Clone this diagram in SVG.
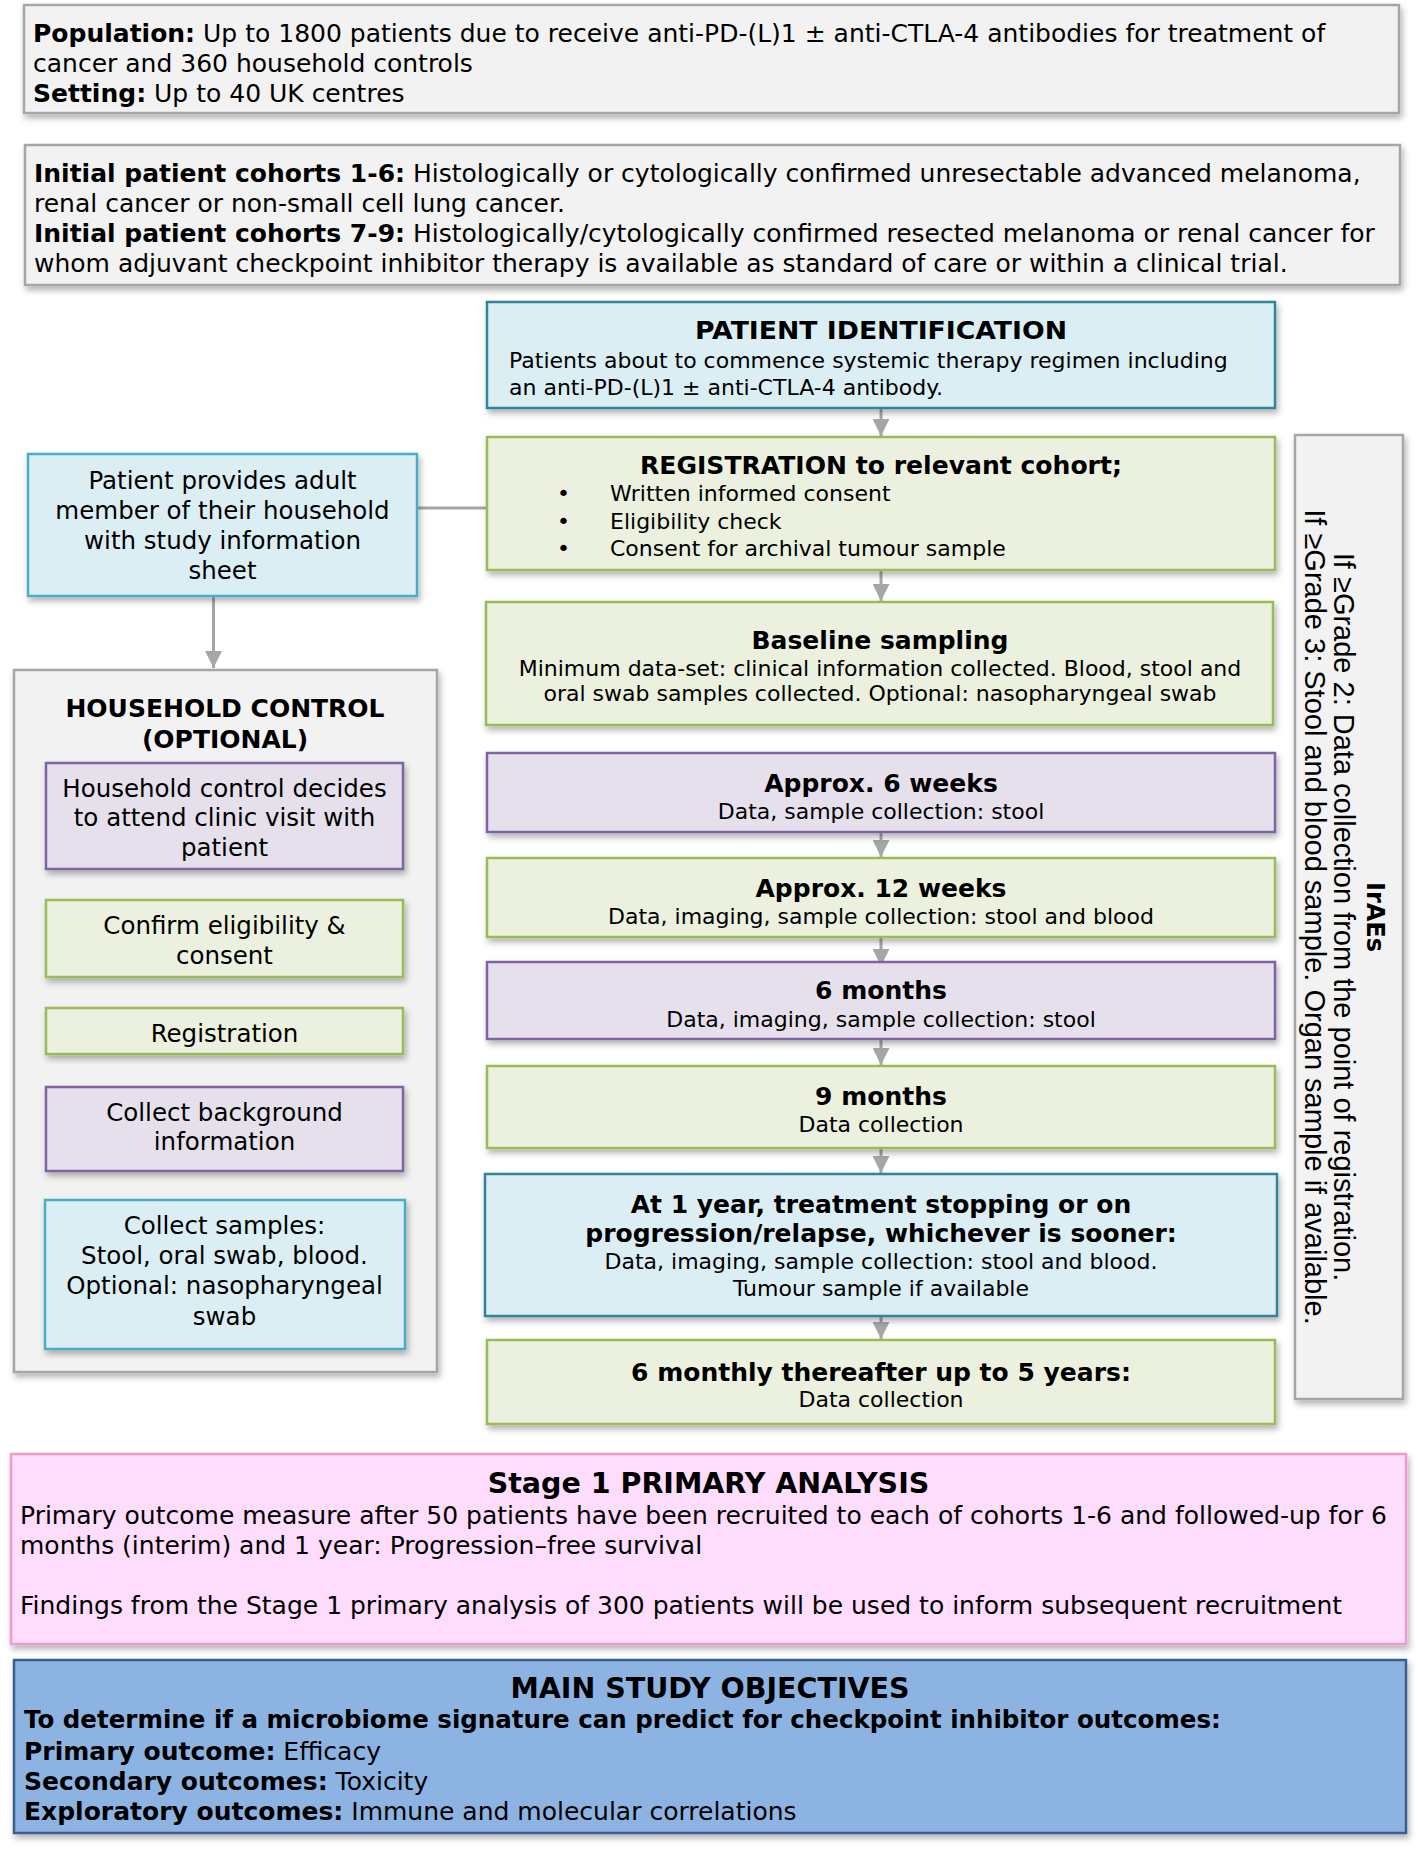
<svg xmlns="http://www.w3.org/2000/svg" width="1418" height="1850" viewBox="0 0 1418 1850">
<style>
text{font-family:"DejaVu Sans",Verdana,sans-serif;fill:#000}
.b{font-weight:bold}
.s22{font-size:22px}
.s24{font-size:24.5px}
.s25{font-size:25px}
.h24{font-size:25px;font-weight:bold}
.h27{font-size:28.5px;font-weight:bold}
.c{text-anchor:middle}
.gray{fill:#f2f2f2;stroke:#a6a6a6;stroke-width:2.5}
.blue{fill:#dbeef4;stroke:#4bacc6;stroke-width:2.5}
.teal{fill:#dbeef4;stroke:#31849b;stroke-width:2.5}
.green{fill:#ebf1de;stroke:#9bbb59;stroke-width:2.5}
.purple{fill:#e5e0ec;stroke:#8064a2;stroke-width:2.5}
.pink{fill:#fddcfc;stroke:#eb9cc8;stroke-width:2.5}
.dblue{fill:#8db3e2;stroke:#3a5f8c;stroke-width:2.5}
.conn{stroke:#a6a6a6;stroke-width:3;fill:none}
.rot{font-family:"Liberation Sans",Arial,sans-serif;font-size:29px}
</style>
<defs>
<filter id="sh" x="-10%" y="-10%" width="125%" height="130%">
<feDropShadow dx="2" dy="4" stdDeviation="3" flood-color="#000" flood-opacity="0.3"/>
</filter>
<marker id="ah" viewBox="0 0 10 10" markerWidth="17" markerHeight="17" refX="10" refY="5" orient="auto" markerUnits="userSpaceOnUse">
<path d="M0,0 L10,5 L0,10 z" fill="#a6a6a6"/>
</marker>
</defs>
<rect width="1418" height="1850" fill="#fff"/>

<g id="connectors">
<line class="conn" x1="881" y1="409" x2="881" y2="436" marker-end="url(#ah)"/>
<line class="conn" x1="881" y1="571" x2="881" y2="601" marker-end="url(#ah)"/>
<line class="conn" x1="881" y1="833" x2="881" y2="857" marker-end="url(#ah)"/>
<line class="conn" x1="881" y1="938" x2="881" y2="966" marker-end="url(#ah)"/>
<line class="conn" x1="881" y1="1040" x2="881" y2="1065" marker-end="url(#ah)"/>
<line class="conn" x1="881" y1="1149" x2="881" y2="1173" marker-end="url(#ah)"/>
<line class="conn" x1="881" y1="1317" x2="881" y2="1339" marker-end="url(#ah)"/>
<line class="conn" x1="418" y1="508" x2="486" y2="508"/>
<line class="conn" x1="213.5" y1="597" x2="213.5" y2="668" marker-end="url(#ah)"/>
<line class="conn" x1="224.5" y1="870" x2="224.5" y2="899" marker-end="url(#ah)"/>
<line class="conn" x1="224.5" y1="978" x2="224.5" y2="1007" marker-end="url(#ah)"/>
<line class="conn" x1="224.5" y1="1055" x2="224.5" y2="1086" marker-end="url(#ah)"/>
<line class="conn" x1="224.5" y1="1172" x2="224.5" y2="1199" marker-end="url(#ah)"/>
</g>

<g id="population">
<rect class="gray" x="24" y="5" width="1375" height="108" filter="url(#sh)"/>
<text class="s25" x="33" y="42"><tspan class="b">Population:</tspan> Up to 1800 patients due to receive anti-PD-(L)1 ± anti-CTLA-4 antibodies for treatment of</text>
<text class="s25" x="33" y="72">cancer and 360 household controls</text>
<text class="s25" x="33" y="102"><tspan class="b">Setting:</tspan> Up to 40 UK centres</text>
</g>

<g id="cohorts">
<rect class="gray" x="25" y="145" width="1375" height="140" filter="url(#sh)"/>
<text class="s25" x="34" y="182"><tspan class="b">Initial patient cohorts 1-6:</tspan> Histologically or cytologically confirmed unresectable advanced melanoma,</text>
<text class="s25" x="34" y="212">renal cancer or non-small cell lung cancer.</text>
<text class="s25" x="34" y="242"><tspan class="b">Initial patient cohorts 7-9:</tspan> Histologically/cytologically confirmed resected melanoma or renal cancer for</text>
<text class="s25" x="34" y="272">whom adjuvant checkpoint inhibitor therapy is available as standard of care or within a clinical trial.</text>
</g>

<g id="patient-identification">
<rect class="teal" x="487" y="302" width="788" height="106" filter="url(#sh)"/>
<text class="h24 c" x="881" y="339" textLength="372" lengthAdjust="spacingAndGlyphs">PATIENT IDENTIFICATION</text>
<text class="s22" x="509" y="368">Patients about to commence systemic therapy regimen including</text>
<text class="s22" x="509" y="395">an anti-PD-(L)1 ± anti-CTLA-4 antibody.</text>
</g>

<g id="registration">
<rect class="green" x="487" y="437" width="788" height="133" filter="url(#sh)"/>
<text class="h24 c" x="881" y="474" textLength="482" lengthAdjust="spacingAndGlyphs">REGISTRATION to relevant cohort;</text>
<text class="s22" x="557" y="501">•</text>
<text class="s22" x="610" y="501">Written informed consent</text>
<text class="s22" x="557" y="529">•</text>
<text class="s22" x="610" y="529">Eligibility check</text>
<text class="s22" x="557" y="556">•</text>
<text class="s22" x="610" y="556">Consent for archival tumour sample</text>
</g>

<g id="baseline">
<rect class="green" x="486" y="602" width="787" height="123" filter="url(#sh)"/>
<text class="h24 c" x="880" y="649">Baseline sampling</text>
<text class="s22 c" x="880" y="676">Minimum data-set: clinical information collected. Blood, stool and</text>
<text class="s22 c" x="880" y="701">oral swab samples collected. Optional: nasopharyngeal swab</text>
</g>

<g id="week6">
<rect class="purple" x="487" y="753" width="788" height="79" filter="url(#sh)"/>
<text class="h24 c" x="881" y="792">Approx. 6 weeks</text>
<text class="s22 c" x="881" y="819">Data, sample collection: stool</text>
</g>

<g id="week12">
<rect class="green" x="487" y="858" width="788" height="79" filter="url(#sh)"/>
<text class="h24 c" x="881" y="897">Approx. 12 weeks</text>
<text class="s22 c" x="881" y="924">Data, imaging, sample collection: stool and blood</text>
</g>

<g id="month6">
<rect class="purple" x="487" y="962" width="788" height="77" filter="url(#sh)"/>
<text class="h24 c" x="881" y="999">6 months</text>
<text class="s22 c" x="881" y="1027">Data, imaging, sample collection: stool</text>
</g>

<g id="month9">
<rect class="green" x="487" y="1066" width="788" height="82" filter="url(#sh)"/>
<text class="h24 c" x="881" y="1105">9 months</text>
<text class="s22 c" x="881" y="1132">Data collection</text>
</g>

<g id="year1">
<rect class="teal" x="485" y="1174" width="792" height="142" filter="url(#sh)"/>
<text class="h24 c" x="881" y="1213">At 1 year, treatment stopping or on</text>
<text class="h24 c" x="881" y="1242">progression/relapse, whichever is sooner:</text>
<text class="s22 c" x="881" y="1269">Data, imaging, sample collection: stool and blood.</text>
<text class="s22 c" x="881" y="1296">Tumour sample if available</text>
</g>

<g id="monthly">
<rect class="green" x="487" y="1340" width="788" height="84" filter="url(#sh)"/>
<text class="h24 c" x="881" y="1381">6 monthly thereafter up to 5 years:</text>
<text class="s22 c" x="881" y="1407">Data collection</text>
</g>

<g id="iraes">
<rect class="gray" x="1295" y="435" width="108" height="964" filter="url(#sh)"/>
<text class="b c" font-size="24" transform="translate(1367,917) rotate(90)" x="0" y="0">IrAEs</text>
<text class="rot c" transform="translate(1334,917) rotate(90)" x="0" y="0">If ≥Grade 2: Data collection from the point of registration.</text>
<text class="rot c" transform="translate(1305,917) rotate(90)" x="0" y="0">If ≥Grade 3: Stool and blood sample. Organ sample if available.</text>
</g>

<g id="household-info">
<rect class="blue" x="28" y="454" width="389" height="142" filter="url(#sh)"/>
<text class="s24 c" x="222.5" y="489">Patient provides adult</text>
<text class="s24 c" x="222.5" y="519">member of their household</text>
<text class="s24 c" x="222.5" y="549">with study information</text>
<text class="s24 c" x="222.5" y="579">sheet</text>
</g>

<g id="household-control">
<rect class="gray" x="14" y="670" width="423" height="702" filter="url(#sh)"/>
<text class="h24 c" x="225" y="717">HOUSEHOLD CONTROL</text>
<text class="h24 c" x="225" y="748">(OPTIONAL)</text>
</g>

<g id="hc-decides">
<rect class="purple" x="46" y="763" width="357" height="106" filter="url(#sh)"/>
<text class="s24 c" x="224.5" y="797">Household control decides</text>
<text class="s24 c" x="224.5" y="826">to attend clinic visit with</text>
<text class="s24 c" x="224.5" y="856">patient</text>
</g>

<g id="hc-confirm">
<rect class="green" x="46" y="900" width="357" height="77" filter="url(#sh)"/>
<text class="s24 c" x="224.5" y="934">Confirm eligibility &amp;</text>
<text class="s24 c" x="224.5" y="964">consent</text>
</g>

<g id="hc-registration">
<rect class="green" x="46" y="1008" width="357" height="46" filter="url(#sh)"/>
<text class="s24 c" x="224.5" y="1042">Registration</text>
</g>

<g id="hc-background">
<rect class="purple" x="46" y="1087" width="357" height="84" filter="url(#sh)"/>
<text class="s24 c" x="224.5" y="1121">Collect background</text>
<text class="s24 c" x="224.5" y="1150">information</text>
</g>

<g id="hc-samples">
<rect class="blue" x="45" y="1200" width="360" height="149" filter="url(#sh)"/>
<text class="s24 c" x="224.5" y="1234">Collect samples:</text>
<text class="s24 c" x="224.5" y="1264">Stool, oral swab, blood.</text>
<text class="s24 c" x="224.5" y="1294">Optional: nasopharyngeal</text>
<text class="s24 c" x="224.5" y="1325">swab</text>
</g>

<g id="stage1">
<rect class="pink" x="11" y="1454" width="1395" height="190" filter="url(#sh)"/>
<text class="h27 c" x="708.5" y="1493">Stage 1 PRIMARY ANALYSIS</text>
<text class="s25" x="20" y="1524">Primary outcome measure after 50 patients have been recruited to each of cohorts 1-6 and followed-up for 6</text>
<text class="s25" x="20" y="1554">months (interim) and 1 year: Progression–free survival</text>
<text class="s25" x="20" y="1614">Findings from the Stage 1 primary analysis of 300 patients will be used to inform subsequent recruitment</text>
</g>

<g id="objectives">
<rect class="dblue" x="14" y="1660" width="1392" height="173" filter="url(#sh)"/>
<text class="h27 c" x="710" y="1698">MAIN STUDY OBJECTIVES</text>
<text class="s24 b" x="24" y="1728">To determine if a microbiome signature can predict for checkpoint inhibitor outcomes:</text>
<text class="s25" x="24" y="1760"><tspan class="b">Primary outcome:</tspan> Efficacy</text>
<text class="s25" x="24" y="1790"><tspan class="b">Secondary outcomes:</tspan> Toxicity</text>
<text class="s25" x="24" y="1820"><tspan class="b">Exploratory outcomes:</tspan> Immune and molecular correlations</text>
</g>
</svg>
